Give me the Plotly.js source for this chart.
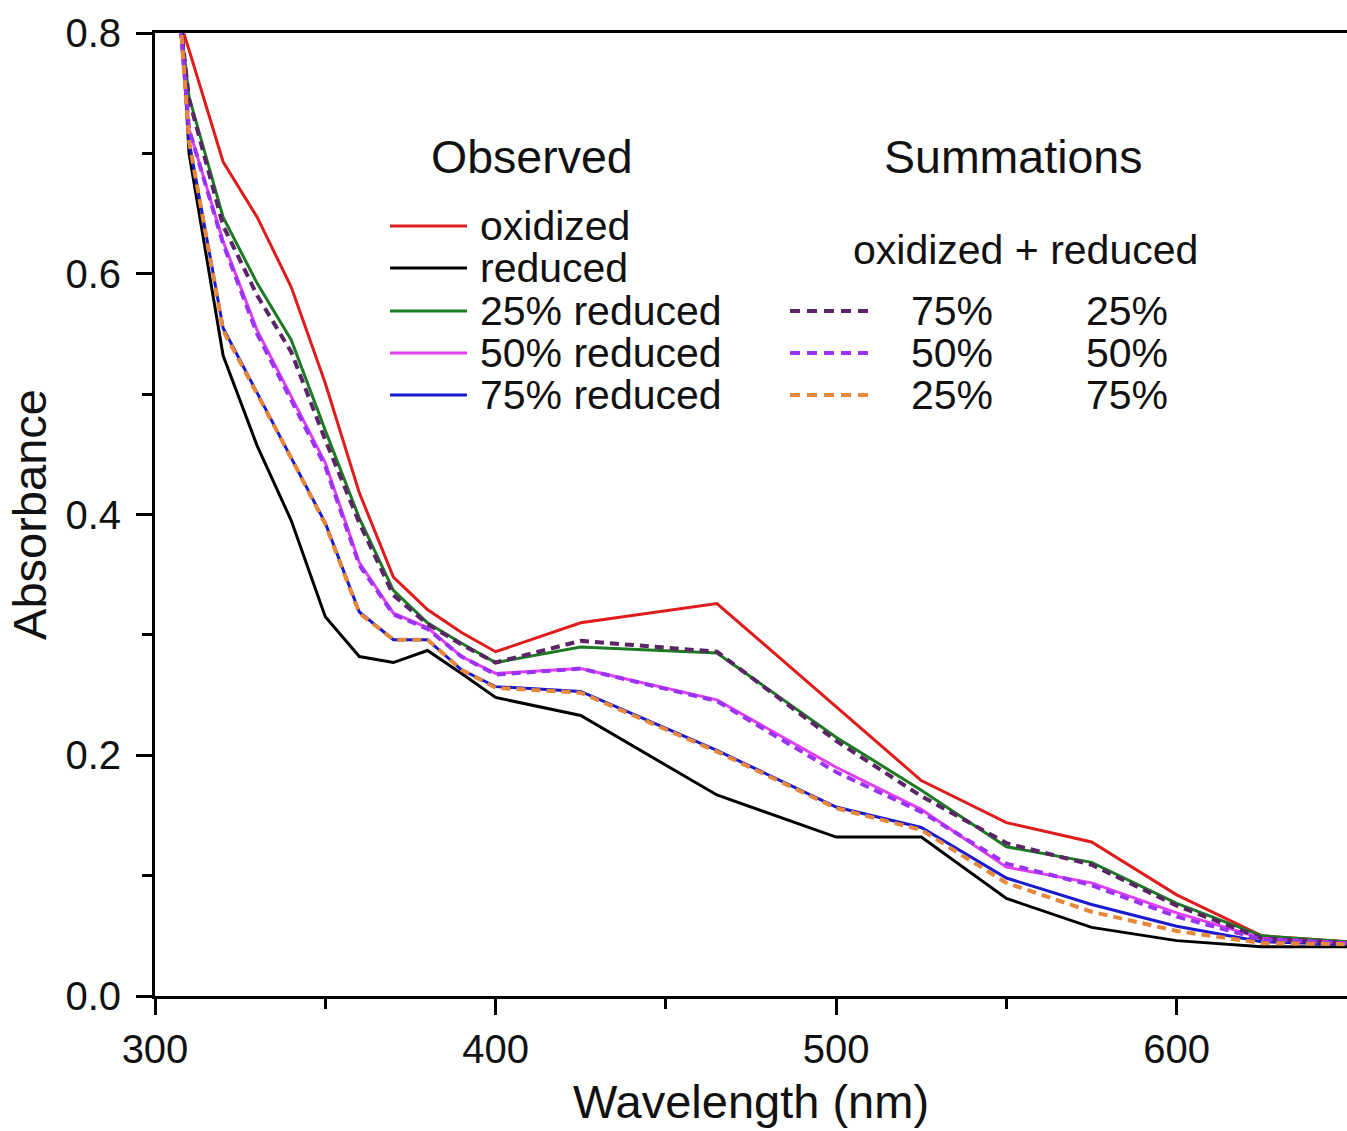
<!DOCTYPE html>
<html>
<head>
<meta charset="utf-8">
<script src="https://cdn.plot.ly/plotly-3.0.1.min.js"></script>
<style>html,body{margin:0;padding:0;background:#fff;}#chart{width:1347px;height:1131px;}</style>
</head>
<body>
<div id="chart"></div>
<script>
// Wavelength (nm)
const wavelength = [305,310,320,330,340,350,360,370,380,390,400,425,465,500,525,550,575,600,625,650];
// Observed spectra
const oxidized   = [0.83,0.786,0.693,0.647,0.589,0.509,0.418,0.348,0.321,0.302,0.286,0.310,0.326,0.240,0.179,0.144,0.128,0.084,0.050,0.045];
const reduced    = [0.95,0.700,0.532,0.457,0.395,0.315,0.282,0.277,0.287,0.268,0.248,0.233,0.167,0.132,0.132,0.081,0.057,0.046,0.041,0.041];
const reduced25  = [0.87,0.747,0.647,0.592,0.545,0.470,0.397,0.337,0.310,0.293,0.277,0.290,0.285,0.215,0.171,0.124,0.111,0.077,0.050,0.045];
const reduced50  = [0.89,0.720,0.627,0.553,0.498,0.443,0.360,0.318,0.306,0.282,0.268,0.272,0.246,0.190,0.155,0.107,0.094,0.069,0.048,0.044];
const reduced75  = [0.91,0.710,0.555,0.501,0.448,0.393,0.319,0.296,0.296,0.271,0.257,0.253,0.204,0.157,0.140,0.098,0.076,0.058,0.045,0.043];
// Summations (oxidized + reduced)
const sum75_25   = [0.87,0.745,0.640,0.582,0.535,0.462,0.393,0.333,0.309,0.292,0.277,0.295,0.286,0.212,0.166,0.127,0.109,0.075,0.048,0.044];
const sum50_50   = [0.89,0.720,0.625,0.550,0.495,0.440,0.358,0.317,0.305,0.282,0.267,0.272,0.245,0.186,0.153,0.110,0.092,0.066,0.047,0.044];
const sum25_75   = [0.91,0.710,0.553,0.500,0.447,0.392,0.318,0.296,0.296,0.271,0.256,0.252,0.203,0.156,0.138,0.094,0.070,0.054,0.044,0.043];

const observedNames = ["oxidized","reduced","25% reduced","50% reduced","75% reduced"];
const observedColors = ["#e01b1b","#000000","#1b7a22","#e040f0","#1a1ad0"];
const observedData = [oxidized, reduced, reduced25, reduced50, reduced75];

const sumOxPct = ["75%","50%","25%"];
const sumRedPct = ["25%","50%","75%"];
const sumColors = ["#5a2466","#9b33f5","#e8873a"];
const sumData = [sum75_25, sum50_50, sum25_75];

const FONT = "Liberation Sans, Arial, Helvetica, sans-serif";
const traces = [];
observedData.forEach((ys,i)=>{
  traces.push({x:wavelength, y:ys, type:"scatter", mode:"lines", name:observedNames[i],
    line:{color:observedColors[i], width:3}, showlegend:false});
});
sumData.forEach((ys,i)=>{
  traces.push({x:wavelength, y:ys, type:"scatter", mode:"lines", name:sumOxPct[i]+" + "+sumRedPct[i],
    line:{color:sumColors[i], width:4, dash:"9px,6px"}, showlegend:false});
});

// plot area geometry (pixels) for legend placement
const L=155, T=33, W=1192, H=963;
const px = v => (v-L)/W;
const py = v => (T+H-v)/H;

const shapes = [];
const annotations = [];
const rowsObs = [226,268,311,353,395];
observedNames.forEach((n,i)=>{
  shapes.push({type:"line", xref:"paper", yref:"paper", x0:px(390), x1:px(467), y0:py(rowsObs[i]), y1:py(rowsObs[i]),
    line:{color:observedColors[i], width:3}});
  annotations.push({xref:"paper", yref:"paper", x:px(478), y:py(rowsObs[i]), xanchor:"left", yanchor:"middle",
    text:n, showarrow:false, font:{family:FONT, size:41, color:"#111"}});
});
const rowsSum = [311,353,395];
sumOxPct.forEach((n,i)=>{
  shapes.push({type:"line", xref:"paper", yref:"paper", x0:px(790), x1:px(874), y0:py(rowsSum[i]), y1:py(rowsSum[i]),
    line:{color:sumColors[i], width:4, dash:"10px,7px"}});
  annotations.push({xref:"paper", yref:"paper", x:px(909), y:py(rowsSum[i]), xanchor:"left", yanchor:"middle",
    text:n, showarrow:false, font:{family:FONT, size:41, color:"#111"}});
  annotations.push({xref:"paper", yref:"paper", x:px(1084), y:py(rowsSum[i]), xanchor:"left", yanchor:"middle",
    text:sumRedPct[i], showarrow:false, font:{family:FONT, size:41, color:"#111"}});
});
annotations.push({xref:"paper", yref:"paper", x:px(532), y:py(157), xanchor:"center", yanchor:"middle",
  text:"Observed", showarrow:false, font:{family:FONT, size:46.5, color:"#111"}});
annotations.push({xref:"paper", yref:"paper", x:px(1013), y:py(157), xanchor:"center", yanchor:"middle",
  text:"Summations", showarrow:false, font:{family:FONT, size:46.5, color:"#111"}});
annotations.push({xref:"paper", yref:"paper", x:px(1025), y:py(250), xanchor:"center", yanchor:"middle",
  text:"oxidized + reduced", showarrow:false, font:{family:FONT, size:41, color:"#111"}});

const layout = {
  width:1347, height:1131,
  margin:{l:155, r:0, t:33, b:135},
  paper_bgcolor:"#fff", plot_bgcolor:"#fff",
  font:{family:FONT, color:"#111"},
  showlegend:false,
  xaxis:{
    range:[300,650], tickvals:[300,400,500,600], ticktext:["300","400","500","600"],
    ticks:"outside", ticklen:16, tickwidth:3, tickcolor:"#000",
    minor:{tickvals:[350,450,550], ticks:"outside", ticklen:10, tickwidth:3, tickcolor:"#000"},
    showline:true, linecolor:"#000", linewidth:3, mirror:true,
    showgrid:false, zeroline:false,
    tickfont:{family:FONT, size:40, color:"#111"}, ticklabelstandoff:0,
    title:{text:"Wavelength (nm)", font:{family:FONT, size:47, color:"#111"}, standoff:16}
  },
  yaxis:{
    range:[0,0.8], tickvals:[0,0.2,0.4,0.6,0.8], ticktext:["0.0","0.2","0.4","0.6","0.8"],
    ticks:"outside", ticklen:16, tickwidth:3, tickcolor:"#000",
    minor:{tickvals:[0.1,0.3,0.5,0.7], ticks:"outside", ticklen:10, tickwidth:3, tickcolor:"#000"},
    showline:true, linecolor:"#000", linewidth:3,
    showgrid:false, zeroline:false,
    tickfont:{family:FONT, size:40, color:"#111"}, ticklabelstandoff:7,
    title:{text:"Absorbance", font:{family:FONT, size:47, color:"#111"}, standoff:4}
  },
  shapes:shapes,
  annotations:annotations
};

Plotly.newPlot("chart", traces, layout, {displayModeBar:false, staticPlot:true});
</script>
</body>
</html>
